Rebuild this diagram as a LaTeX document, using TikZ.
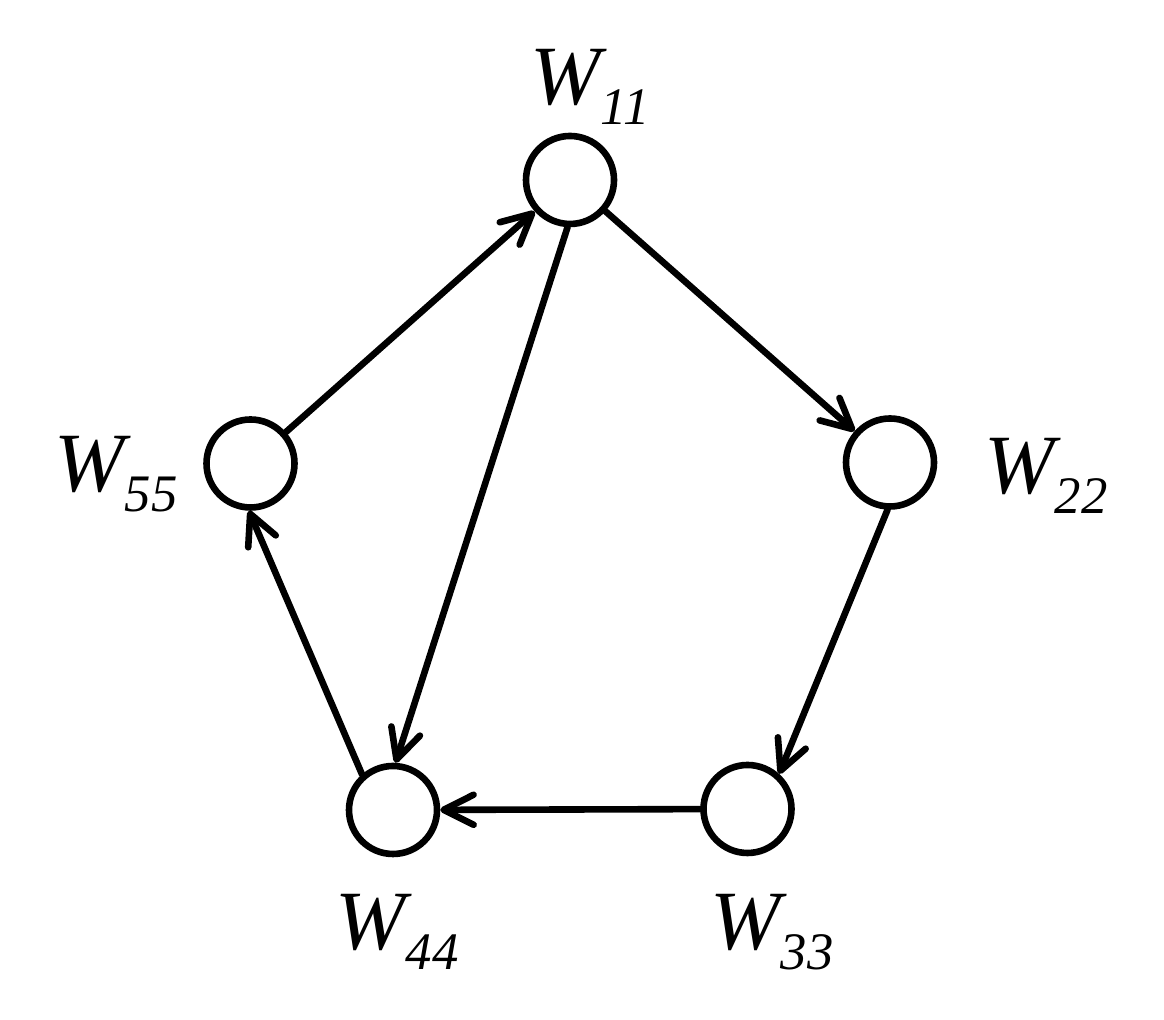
\documentclass[tikz,border=0pt]{standalone}
\usepackage{fontspec}
\setmainfont{Liberation Serif}
\newfontfamily\wfont{Liberation Serif Italic}
\usetikzlibrary{arrows.meta}
\newcommand{\wlab}[1]{{\fontsize{24}{24}\wfont W}\raisebox{-0.2cm}{\fontsize{15}{15}\wfont #1}}
\tikzset{
  vert/.style={circle,draw,line width=0.066cm,minimum size=0.88cm,inner sep=0pt},
  lab/.style={anchor=base west,inner sep=0pt},
  edge/.style={line width=0.066cm,line cap=round,-{Straight Barb[length=0.3cm,width=0.3cm,line cap=round,line join=round]}}
}
\begin{document}
\begin{tikzpicture}
\useasboundingbox (0,0) rectangle (11.64,10.20);
\node[vert] (w1) at (5.70,8.40) {};
\node[vert] (w2) at (8.90,5.575) {};
\node[vert] (w3) at (7.475,2.11) {};
\node[vert] (w4) at (3.93,2.10) {};
\node[vert] (w5) at (2.505,5.565) {};
\node[lab] (l1) at (5.30,9.15) {\wlab{11}};
\node[lab] (l2) at (9.84,5.26) {\wlab{22}};
\node[lab] (l3) at (7.10,0.70) {\wlab{33}};
\node[lab] (l4) at (3.35,0.70) {\wlab{44}};
\node[lab] (l5) at (0.54,5.28) {\wlab{55}};
\draw[edge] (w1) -- (w2);
\draw[edge] (w2.267.6) -- (w3.48.7);
\draw[edge] (w3) -- (w4);
\draw[edge] (w4.131.7) -- (w5.268);
\draw[edge] (w5) -- (w1);
\draw[edge] (w1.267.6) -- (w4.87.7);
\end{tikzpicture}
\end{document}
